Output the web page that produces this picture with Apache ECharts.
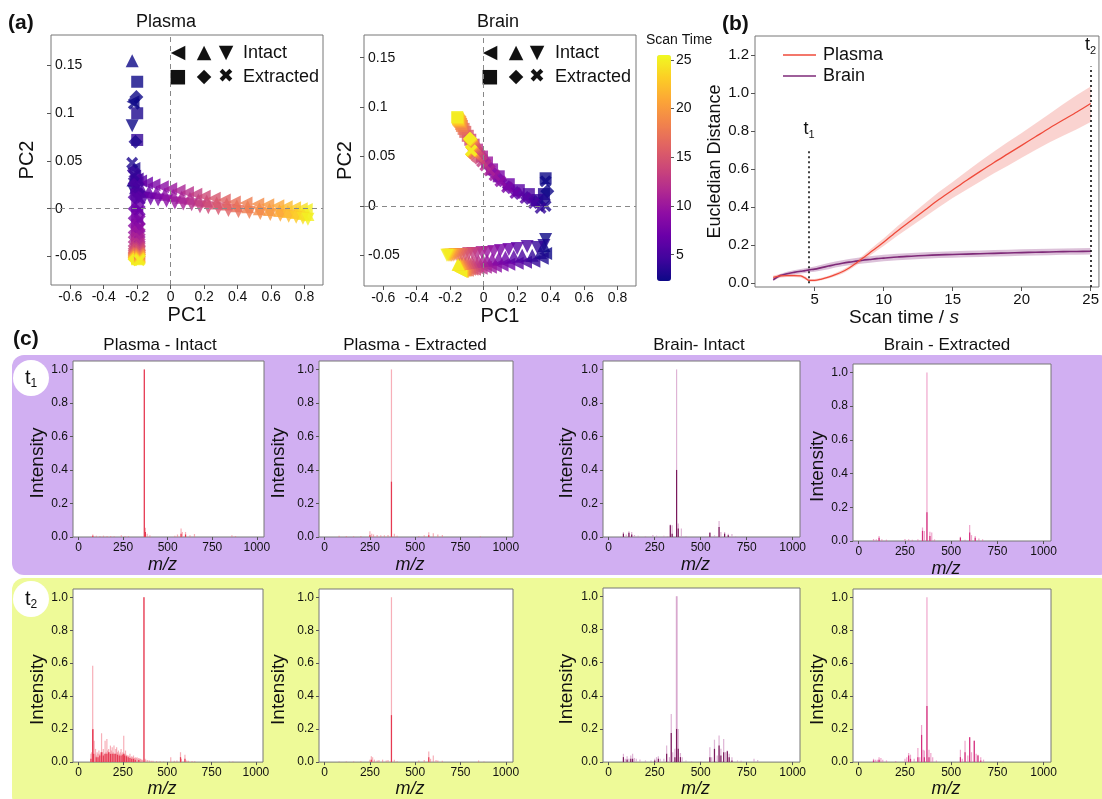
<!DOCTYPE html>
<html>
<head>
<meta charset="utf-8">
<script src="https://cdn.jsdelivr.net/npm/echarts@6/dist/echarts.min.js"></script>
<style>
html, body { margin: 0; padding: 0; background: #fff; }
#chart { width: 1102px; height: 799px; }
</style>
</head>
<body>
<div id="chart"></div>
<script>
// ---------------- (a) PCA score trajectories ----------------
// Scan time (s) of each consecutive point in every trajectory
const scanTimes = [2, 3, 4, 5, 6, 7, 8, 9, 10, 11, 12, 13, 14, 15, 16, 17, 18, 19, 20, 21, 22, 23, 24, 25];

// Plasma: [PC1, PC2] per scan time
const plasmaIntactLeft = [[-0.225,0.112],[-0.22,0.042],[-0.215,0.034],[-0.2,0.031],[-0.18,0.029],[-0.145,0.027],[-0.1,0.025],[-0.05,0.023],[0.0,0.021],[0.05,0.019],[0.1,0.017],[0.15,0.015],[0.2,0.013],[0.26,0.011],[0.32,0.009],[0.38,0.007],[0.45,0.006],[0.52,0.005],[0.58,0.004],[0.64,0.003],[0.69,0.002],[0.74,0.001],[0.78,0.0],[0.81,-0.001]];
const plasmaIntactUp = [[-0.23,0.155],[-0.225,0.03],[-0.21,0.022],[-0.195,0.02],[-0.17,0.019],[-0.13,0.018],[-0.085,0.017],[-0.035,0.015],[0.015,0.014],[0.065,0.012],[0.115,0.011],[0.165,0.009],[0.215,0.008],[0.275,0.006],[0.335,0.005],[0.395,0.003],[0.46,0.002],[0.53,0.0],[0.59,-0.001],[0.65,-0.002],[0.7,-0.003],[0.75,-0.004],[0.79,-0.005],[0.82,-0.006]];
const plasmaIntactDown = [[-0.23,0.087],[-0.22,0.018],[-0.205,0.014],[-0.19,0.012],[-0.16,0.011],[-0.12,0.01],[-0.075,0.009],[-0.025,0.008],[0.025,0.006],[0.075,0.005],[0.125,0.004],[0.175,0.002],[0.225,0.001],[0.285,0.0],[0.345,-0.002],[0.405,-0.003],[0.47,-0.004],[0.535,-0.005],[0.595,-0.006],[0.655,-0.007],[0.705,-0.008],[0.75,-0.009],[0.79,-0.01],[0.82,-0.011]];
const plasmaExtractedSquare = [[-0.2,0.133],[-0.2,0.1],[-0.2,0.072],[-0.205,0.03],[-0.205,0.015],[-0.2,0.003],[-0.2,-0.008],[-0.2,-0.017],[-0.2,-0.023],[-0.2,-0.029],[-0.2,-0.034],[-0.2,-0.038],[-0.2,-0.041],[-0.2,-0.043],[-0.2,-0.045],[-0.2,-0.046],[-0.2,-0.047],[-0.2,-0.048],[-0.2,-0.049],[-0.2,-0.05],[-0.2,-0.051],[-0.2,-0.052],[-0.2,-0.052],[-0.2,-0.053]];
const plasmaExtractedDiamond = [[-0.205,0.117],[-0.21,0.07],[-0.22,0.04],[-0.215,0.026],[-0.215,0.012],[-0.215,0.0],[-0.215,-0.01],[-0.215,-0.018],[-0.215,-0.025],[-0.215,-0.03],[-0.215,-0.035],[-0.215,-0.039],[-0.215,-0.042],[-0.215,-0.044],[-0.215,-0.046],[-0.215,-0.047],[-0.215,-0.048],[-0.215,-0.049],[-0.215,-0.05],[-0.215,-0.051],[-0.215,-0.051],[-0.215,-0.052],[-0.215,-0.053],[-0.215,-0.053]];
const plasmaExtractedCross = [[-0.22,0.11],[-0.23,0.048],[-0.22,0.035],[-0.19,0.022],[-0.185,0.01],[-0.185,-0.002],[-0.185,-0.012],[-0.185,-0.02],[-0.185,-0.026],[-0.185,-0.031],[-0.185,-0.036],[-0.185,-0.04],[-0.185,-0.042],[-0.185,-0.044],[-0.185,-0.046],[-0.185,-0.047],[-0.185,-0.048],[-0.185,-0.049],[-0.185,-0.05],[-0.185,-0.051],[-0.185,-0.052],[-0.185,-0.052],[-0.185,-0.053],[-0.185,-0.054]];

// Brain: [PC1, PC2] per scan time
const brainIntactLeft = [[0.37,-0.048],[0.35,-0.053],[0.3,-0.056],[0.25,-0.057],[0.2,-0.058],[0.15,-0.059],[0.11,-0.06],[0.07,-0.061],[0.04,-0.062],[0.01,-0.062],[-0.015,-0.063],[-0.035,-0.063],[-0.055,-0.064],[-0.07,-0.064],[-0.085,-0.064],[-0.097,-0.065],[-0.107,-0.065],[-0.115,-0.065],[-0.121,-0.065],[-0.126,-0.066],[-0.13,-0.066],[-0.133,-0.066],[-0.136,-0.066],[-0.138,-0.066]];
const brainIntactUp = [[0.36,-0.04],[0.34,-0.047],[0.29,-0.05],[0.23,-0.05],[0.18,-0.051],[0.13,-0.052],[0.09,-0.053],[0.05,-0.054],[0.02,-0.055],[-0.005,-0.055],[-0.03,-0.056],[-0.05,-0.056],[-0.07,-0.057],[-0.085,-0.057],[-0.1,-0.057],[-0.11,-0.058],[-0.12,-0.058],[-0.128,-0.058],[-0.135,-0.058],[-0.14,-0.058],[-0.145,-0.059],[-0.148,-0.059],[-0.151,-0.059],[-0.153,-0.059]];
const brainIntactDown = [[0.37,-0.034],[0.36,-0.04],[0.32,-0.042],[0.26,-0.041],[0.2,-0.043],[0.15,-0.044],[0.1,-0.045],[0.06,-0.046],[0.02,-0.047],[-0.01,-0.047],[-0.04,-0.048],[-0.065,-0.048],[-0.09,-0.048],[-0.11,-0.049],[-0.13,-0.049],[-0.145,-0.049],[-0.16,-0.049],[-0.172,-0.049],[-0.183,-0.05],[-0.193,-0.05],[-0.2,-0.05],[-0.207,-0.05],[-0.213,-0.05],[-0.22,-0.05]];
const brainExtractedSquare = [[0.37,0.028],[0.36,0.012],[0.32,0.006],[0.27,0.012],[0.21,0.016],[0.15,0.022],[0.09,0.03],[0.05,0.037],[0.02,0.044],[-0.01,0.05],[-0.04,0.057],[-0.06,0.062],[-0.08,0.067],[-0.095,0.071],[-0.11,0.075],[-0.12,0.078],[-0.13,0.081],[-0.135,0.083],[-0.14,0.085],[-0.145,0.086],[-0.15,0.087],[-0.153,0.088],[-0.156,0.089],[-0.158,0.09]];
const brainExtractedDiamond = [[0.38,0.015],[0.36,0.006],[0.31,0.004],[0.26,0.008],[0.2,0.013],[0.15,0.019],[0.1,0.026],[0.06,0.033],[0.03,0.04],[0.005,0.046],[-0.015,0.051],[-0.03,0.055],[-0.045,0.058],[-0.055,0.061],[-0.062,0.063],[-0.067,0.064],[-0.071,0.065],[-0.074,0.066],[-0.076,0.066],[-0.078,0.067],[-0.079,0.067],[-0.08,0.067],[-0.081,0.068],[-0.082,0.068]];
const brainExtractedCross = [[0.37,0.025],[0.37,0.0],[0.34,-0.002],[0.3,0.003],[0.25,0.008],[0.19,0.013],[0.14,0.019],[0.1,0.025],[0.065,0.031],[0.035,0.036],[0.01,0.041],[-0.01,0.045],[-0.025,0.048],[-0.04,0.05],[-0.05,0.052],[-0.057,0.053],[-0.062,0.054],[-0.066,0.055],[-0.069,0.055],[-0.071,0.055],[-0.073,0.056],[-0.074,0.056],[-0.075,0.056],[-0.076,0.056]];

const pc1Ticks = [-0.6, -0.4, -0.2, 0, 0.2, 0.4, 0.6, 0.8];
const pc2Ticks = [-0.05, 0, 0.05, 0.1, 0.15];
const scanTimeTicks = [5, 10, 15, 20, 25];

// matplotlib "plasma" colour ramp
const plasmaRamp = ['#0d0887', '#41049d', '#6a00a8', '#8f0da4', '#b12a90', '#cc4778', '#e16462', '#f2844b', '#fca636', '#fcce25', '#f0f921'];

// ---------------- (b) Euclidean distance vs scan time ----------------
const distTimes = [2, 2.5, 3, 3.5, 4, 4.3, 4.6, 5, 5.5, 6, 6.5, 7, 7.5, 8, 8.5, 9, 9.5, 10, 11, 12, 13, 14, 15, 16, 17, 18, 19, 20, 21, 22, 23, 24, 25];
const plasmaDistMean = [0.03, 0.038, 0.04, 0.04, 0.038, 0.028, 0.015, 0.015, 0.022, 0.032, 0.045, 0.06, 0.08, 0.105, 0.132, 0.16, 0.188, 0.215, 0.275, 0.33, 0.385, 0.44, 0.49, 0.54, 0.588, 0.635, 0.68, 0.725, 0.77, 0.815, 0.858, 0.9, 0.945];
const plasmaDistLow = [0.02, 0.028, 0.032, 0.032, 0.03, 0.02, 0.008, 0.008, 0.015, 0.025, 0.037, 0.05, 0.07, 0.093, 0.118, 0.144, 0.17, 0.195, 0.25, 0.3, 0.35, 0.4, 0.448, 0.492, 0.535, 0.578, 0.618, 0.66, 0.7, 0.74, 0.775, 0.81, 0.848];
const plasmaDistHigh = [0.04, 0.048, 0.048, 0.048, 0.046, 0.036, 0.022, 0.022, 0.029, 0.039, 0.053, 0.07, 0.09, 0.117, 0.146, 0.176, 0.206, 0.235, 0.3, 0.36, 0.42, 0.48, 0.532, 0.588, 0.641, 0.692, 0.742, 0.79, 0.84, 0.89, 0.941, 0.99, 1.035];
const brainDistMean = [0.018, 0.04, 0.05, 0.057, 0.063, 0.066, 0.07, 0.074, 0.082, 0.09, 0.098, 0.105, 0.111, 0.116, 0.121, 0.125, 0.129, 0.132, 0.138, 0.142, 0.146, 0.149, 0.151, 0.153, 0.155, 0.157, 0.159, 0.161, 0.163, 0.164, 0.166, 0.167, 0.168];
const brainDistLow = [0.012, 0.032, 0.04, 0.046, 0.051, 0.054, 0.057, 0.06, 0.067, 0.074, 0.082, 0.089, 0.095, 0.1, 0.104, 0.108, 0.112, 0.115, 0.121, 0.125, 0.129, 0.132, 0.134, 0.136, 0.138, 0.14, 0.142, 0.144, 0.146, 0.147, 0.149, 0.15, 0.151];
const brainDistHigh = [0.024, 0.048, 0.06, 0.068, 0.075, 0.078, 0.083, 0.088, 0.097, 0.106, 0.114, 0.121, 0.127, 0.132, 0.138, 0.142, 0.146, 0.149, 0.155, 0.159, 0.163, 0.166, 0.168, 0.17, 0.172, 0.174, 0.176, 0.178, 0.18, 0.181, 0.183, 0.184, 0.185];
const distTicksX = [5, 10, 15, 20, 25];
const distTicksY = [0, 0.2, 0.4, 0.6, 0.8, 1.0, 1.2];
// marker times t1 and t2: [time, top of dotted line]
const markT1 = [4.6, 0.7];
const markT2 = [25, 1.14];

// ---------------- (c) mass spectra: [m/z, relative intensity] ----------------
const mzTicks = [0, 250, 500, 750, 1000];
const intensityTicks = [0, 0.2, 0.4, 0.6, 0.8, 1.0];
const columnTitles = ['Plasma - Intact', 'Plasma - Extracted', 'Brain- Intact', 'Brain - Extracted'];

const specPlasmaIntactT1 = [[80,0.015],[100,0.008],[120,0.006],[140,0.008],[160,0.006],[180,0.006],[200,0.005],[240,0.01],[260,0.006],[280,0.005],[369,1.0],[375,0.055],[385,0.02],[400,0.01],[540,0.008],[555,0.015],[575,0.05],[582,0.03],[600,0.03],[625,0.01],[650,0.018],[860,0.01],[880,0.006]];
const specPlasmaIntactT1Core = [[80,0.008],[369,1.0],[375,0.03],[575,0.02],[600,0.015]];
const specPlasmaExtractedT1 = [[80,0.008],[120,0.006],[160,0.005],[200,0.006],[250,0.035],[260,0.02],[270,0.015],[290,0.012],[310,0.01],[330,0.01],[350,0.012],[369,1.0],[385,0.02],[400,0.008],[520,0.006],[550,0.01],[575,0.028],[600,0.022],[625,0.015],[650,0.012],[860,0.005]];
const specPlasmaExtractedT1Core = [[250,0.01],[369,0.33],[575,0.01]];
const specBrainIntactT1 = [[80,0.03],[95,0.015],[110,0.035],[125,0.03],[140,0.012],[160,0.008],[200,0.006],[240,0.012],[260,0.008],[300,0.008],[320,0.006],[335,0.075],[345,0.07],[369,1.0],[378,0.08],[395,0.05],[420,0.006],[550,0.028],[575,0.01],[600,0.095],[610,0.03],[630,0.03],[650,0.02],[670,0.018],[690,0.005]];
const specBrainIntactT1Core = [[80,0.02],[110,0.025],[125,0.015],[335,0.07],[345,0.02],[369,0.4],[378,0.05],[550,0.025],[600,0.06],[630,0.02],[650,0.01]];
const specBrainExtractedT1 = [[80,0.012],[95,0.01],[110,0.03],[125,0.01],[150,0.008],[250,0.012],[270,0.01],[290,0.008],[320,0.01],[345,0.08],[355,0.06],[369,1.0],[385,0.055],[395,0.05],[410,0.01],[550,0.025],[575,0.008],[600,0.095],[610,0.035],[630,0.03],[650,0.015],[670,0.01]];
const specBrainExtractedT1Core = [[110,0.02],[345,0.06],[369,0.17],[385,0.03],[550,0.02],[600,0.05],[630,0.02]];

const specPlasmaIntactT2 = [[70,0.05],[75,0.06],[80,0.585],[84,0.2],[88,0.13],[92,0.05],[96,0.08],[100,0.04],[105,0.06],[110,0.05],[115,0.07],[120,0.05],[125,0.06],[130,0.175],[135,0.06],[140,0.08],[145,0.05],[150,0.13],[155,0.06],[160,0.14],[165,0.07],[170,0.08],[175,0.06],[180,0.1],[185,0.07],[190,0.09],[195,0.06],[200,0.1],[205,0.05],[210,0.08],[215,0.09],[220,0.06],[225,0.07],[230,0.05],[235,0.06],[240,0.08],[245,0.05],[250,0.06],[255,0.16],[260,0.05],[265,0.07],[270,0.045],[275,0.04],[280,0.04],[285,0.035],[290,0.05],[295,0.03],[300,0.035],[305,0.03],[310,0.04],[315,0.025],[320,0.03],[325,0.025],[330,0.03],[335,0.02],[340,0.025],[345,0.02],[350,0.02],[355,0.015],[360,0.015],[369,1.0],[375,0.02],[380,0.015],[390,0.012],[400,0.01],[410,0.008],[420,0.008],[440,0.006],[460,0.005],[480,0.004],[520,0.03],[540,0.008],[555,0.01],[575,0.06],[580,0.02],[600,0.045],[610,0.01],[620,0.008],[640,0.006],[655,0.005],[850,0.004],[870,0.003]];
const specPlasmaIntactT2Core = [[70,0.02],[80,0.2],[84,0.05],[100,0.03],[110,0.03],[120,0.04],[130,0.06],[140,0.04],[150,0.05],[160,0.05],[170,0.06],[180,0.05],[190,0.05],[200,0.05],[210,0.05],[220,0.045],[230,0.04],[240,0.04],[250,0.045],[255,0.05],[260,0.04],[270,0.035],[280,0.03],[290,0.025],[300,0.02],[310,0.02],[320,0.015],[340,0.012],[369,1.0],[575,0.03],[600,0.02]];
const specPlasmaExtractedT2 = [[80,0.004],[120,0.004],[160,0.004],[200,0.005],[250,0.015],[258,0.035],[265,0.03],[275,0.015],[290,0.01],[300,0.012],[320,0.015],[340,0.01],[350,0.012],[369,1.0],[385,0.015],[400,0.005],[520,0.01],[550,0.012],[575,0.065],[585,0.02],[600,0.04],[615,0.012],[625,0.01],[650,0.008],[850,0.01],[880,0.004]];
const specPlasmaExtractedT2Core = [[258,0.015],[369,0.285],[575,0.03]];
const specBrainIntactT2 = [[80,0.05],[90,0.02],[100,0.035],[110,0.02],[120,0.04],[130,0.05],[140,0.025],[150,0.02],[170,0.015],[200,0.01],[230,0.01],[250,0.02],[260,0.03],[270,0.035],[280,0.02],[300,0.02],[315,0.1],[330,0.03],[340,0.29],[348,0.06],[360,0.08],[368,1.0],[372,1.0],[378,0.2],[390,0.055],[400,0.03],[420,0.01],[450,0.005],[500,0.006],[550,0.09],[560,0.03],[575,0.135],[590,0.04],[600,0.16],[610,0.08],[625,0.14],[635,0.06],[645,0.07],[655,0.05],[670,0.03],[700,0.01],[720,0.008],[790,0.02],[810,0.012]];
const specBrainIntactT2Core = [[80,0.03],[100,0.015],[120,0.02],[130,0.02],[250,0.01],[270,0.02],[315,0.05],[340,0.175],[360,0.03],[369,0.2],[378,0.08],[390,0.03],[550,0.03],[575,0.08],[600,0.1],[610,0.04],[625,0.06],[645,0.065],[655,0.03],[670,0.01]];
const specBrainExtractedT2 = [[80,0.02],[90,0.015],[100,0.015],[110,0.03],[120,0.025],[130,0.015],[150,0.01],[200,0.006],[250,0.02],[260,0.03],[270,0.055],[280,0.045],[300,0.02],[320,0.085],[330,0.03],[340,0.225],[348,0.075],[355,0.07],[369,1.0],[380,0.075],[390,0.055],[400,0.03],[420,0.01],[550,0.075],[560,0.02],[575,0.13],[590,0.04],[600,0.15],[610,0.06],[625,0.13],[635,0.05],[645,0.045],[660,0.03],[675,0.015],[780,0.004]];
const specBrainExtractedT2Core = [[80,0.01],[110,0.015],[270,0.04],[280,0.02],[320,0.03],[340,0.165],[355,0.03],[369,0.34],[380,0.03],[550,0.03],[575,0.06],[600,0.15],[625,0.13],[645,0.04],[660,0.01]];

// ---------------- layout and styling ----------------
const FONT = '"Liberation Sans", Arial, Helvetica, sans-serif';
const INK = '#111';
const FRAME = '#777';

const grids = [
  { left: 51,  top: 35,  width: 272, height: 250 },   // 0 PCA plasma
  { left: 364, top: 35,  width: 272, height: 251 },   // 1 PCA brain
  { left: 657, top: 55,  width: 14,  height: 226 },   // 2 colour bar axis
  { left: 755, top: 36,  width: 346, height: 251 },   // 3 distance
  { left: 73,  top: 361, width: 191, height: 176 },   // 4 t1 plasma intact
  { left: 319, top: 361, width: 194, height: 176 },   // 5 t1 plasma extracted
  { left: 603, top: 361, width: 197, height: 176 },   // 6 t1 brain intact
  { left: 853, top: 364, width: 198, height: 177 },   // 7 t1 brain extracted
  { left: 73,  top: 589, width: 190, height: 176 },   // 8 t2 plasma intact
  { left: 319, top: 589, width: 194, height: 176 },   // 9 t2 plasma extracted
  { left: 603, top: 588, width: 197, height: 176 },   // 10 t2 brain intact
  { left: 853, top: 589, width: 198, height: 176 }    // 11 t2 brain extracted
].map((g, i) => Object.assign({
  show: i !== 2, borderColor: FRAME, borderWidth: 1, backgroundColor: '#fff', containLabel: false
}, g));

const xAxes = [];
const yAxes = [];

function nameStyle(size, extra) {
  return Object.assign({ fontSize: size, fontFamily: FONT, color: INK, verticalAlign: 'middle' }, extra || {});
}
const plain = v => (v === 0 ? '0' : String(v));

// PCA axes
[[-0.08, 0.182, 24], [-0.081, 0.173, 19]].forEach((r, i) => {
  xAxes.push({
    gridIndex: i, type: 'value', min: -0.715, max: 0.91,
    axisLine: { show: false, onZero: false },
    axisTick: { show: true, customValues: pc1Ticks, length: 4, lineStyle: { color: '#555' } },
    axisLabel: { customValues: pc1Ticks, fontSize: 14, fontFamily: FONT, color: INK, margin: 5, formatter: plain },
    splitLine: { show: false },
    name: 'PC1', nameLocation: 'middle', nameGap: 30, nameTextStyle: nameStyle(20)
  });
  yAxes.push({
    gridIndex: i, type: 'value', min: r[0], max: r[1],
    axisLine: { show: false, onZero: false },
    axisTick: { show: true, customValues: pc2Ticks, length: 4, lineStyle: { color: '#555' } },
    axisLabel: { customValues: pc2Ticks, inside: true, fontSize: 14, fontFamily: FONT, color: INK, margin: 4, formatter: plain },
    splitLine: { show: false },
    name: 'PC2', nameLocation: 'middle', nameGap: r[2], nameTextStyle: nameStyle(20)
  });
});

// colour bar axis
xAxes.push({ gridIndex: 2, type: 'value', min: 0, max: 1, show: false });
yAxes.push({
  gridIndex: 2, type: 'value', min: 2.3, max: 25.5, position: 'right',
  axisLine: { show: false, onZero: false },
  axisTick: { show: true, customValues: scanTimeTicks, length: 3, lineStyle: { color: '#555' } },
  axisLabel: { customValues: scanTimeTicks, fontSize: 14, fontFamily: FONT, color: INK, margin: 5, formatter: plain },
  splitLine: { show: false }
});

// distance axes
xAxes.push({
  gridIndex: 3, type: 'value', min: 0.68, max: 25.6,
  axisLine: { show: false, onZero: false },
  axisTick: { show: true, customValues: distTicksX, length: 4, lineStyle: { color: '#555' } },
  axisLabel: { customValues: distTicksX, fontSize: 15, fontFamily: FONT, color: INK, margin: 5, formatter: plain },
  splitLine: { show: false },
  name: '{n|Scan time / }{i|s}', nameLocation: 'middle', nameGap: 31,
  nameTextStyle: nameStyle(19, { padding: [0, 46, 0, 0], rich: {
    n: { fontSize: 19, fontFamily: FONT, color: INK },
    i: { fontSize: 19, fontFamily: FONT, color: INK, fontStyle: 'italic' } } })
});
yAxes.push({
  gridIndex: 3, type: 'value', min: -0.02, max: 1.30,
  axisLine: { show: false, onZero: false },
  axisTick: { show: true, customValues: distTicksY, length: 4, lineStyle: { color: '#555' } },
  axisLabel: { customValues: distTicksY, fontSize: 15, fontFamily: FONT, color: INK, margin: 6,
    formatter: v => v.toFixed(1) },
  splitLine: { show: false },
  name: 'Eucledian Distance', nameLocation: 'middle', nameGap: 35, nameTextStyle: nameStyle(18)
});

// spectra axes
const intensityGaps = [35, 40, 36, 35];
for (let k = 0; k < 8; k++) {
  const g = 4 + k;
  xAxes.push({
    gridIndex: g, type: 'value', min: -31, max: 1040,
    axisLine: { show: false, onZero: false },
    axisTick: { show: true, customValues: mzTicks, length: 3, lineStyle: { color: '#555' } },
    axisLabel: { customValues: mzTicks, fontSize: 12, fontFamily: FONT, color: INK, margin: 5, formatter: plain },
    splitLine: { show: false },
    name: 'm/z', nameLocation: 'middle', nameGap: k < 4 ? 28 : 26,
    nameTextStyle: nameStyle(18, { fontStyle: 'italic', padding: [0, 12, 0, 0] })
  });
  yAxes.push({
    gridIndex: g, type: 'value', min: 0, max: 1.05,
    axisLine: { show: false, onZero: false },
    axisTick: { show: true, customValues: intensityTicks, length: 3, lineStyle: { color: '#555' } },
    axisLabel: { customValues: intensityTicks, fontSize: 12, fontFamily: FONT, color: INK, margin: 5,
      formatter: v => v.toFixed(1) },
    splitLine: { show: false },
    name: 'Intensity', nameLocation: 'middle', nameGap: intensityGaps[k % 4],
    nameTextStyle: nameStyle(19, { padding: [0, 28, 0, 0] })
  });
}

// ---------------- series ----------------
const crossPath = 'path://M0,2L2,0L5,3L8,0L10,2L7,5L10,8L8,10L5,7L2,10L0,8L3,5Z';
const markerKinds = [
  { symbol: 'triangle', rotate: 90, size: 13 },
  { symbol: 'triangle', rotate: 0, size: 13 },
  { symbol: 'triangle', rotate: 180, size: 13 },
  { symbol: 'rect', rotate: 0, size: 12 },
  { symbol: 'diamond', rotate: 0, size: 14 },
  { symbol: crossPath, rotate: 0, size: 12 }
];
const plasmaGroups = [plasmaIntactLeft, plasmaIntactUp, plasmaIntactDown, plasmaExtractedSquare, plasmaExtractedDiamond, plasmaExtractedCross];
const brainGroups = [brainIntactLeft, brainIntactUp, brainIntactDown, brainExtractedSquare, brainExtractedDiamond, brainExtractedCross];

const zeroLines = {
  silent: true, symbol: ['none', 'none'], label: { show: false },
  lineStyle: { type: [5, 4], color: '#888', width: 1 },
  data: [{ xAxis: 0 }, { yAxis: 0 }]
};

const series = [];
[plasmaGroups, brainGroups].forEach((groups, gi) => {
  groups.forEach((pts, k) => {
    const s = {
      type: 'scatter', name: (gi ? 'brain-' : 'plasma-') + k,
      xAxisIndex: gi, yAxisIndex: gi,
      symbol: markerKinds[k].symbol, symbolRotate: markerKinds[k].rotate, symbolSize: markerKinds[k].size,
      data: pts.map((p, i) => [p[0], p[1], scanTimes[i]]),
      silent: true
    };
    if (k === 0) s.markLine = zeroLines;
    series.push(s);
  });
});

function band(name, xs, lo, hi, color) {
  return {
    type: 'custom', name: name, xAxisIndex: 3, yAxisIndex: 3, silent: true,
    data: xs.map((x, i) => [x, lo[i], hi[i]]),
    renderItem: function (params, api) {
      if (params.dataIndex !== 0) return null;
      const upper = xs.map((x, i) => api.coord([x, hi[i]]));
      const lower = xs.map((x, i) => api.coord([x, lo[i]])).reverse();
      return { type: 'polygon', shape: { points: upper.concat(lower) }, style: { fill: color } };
    }
  };
}
series.push(band('Brain band', distTimes, brainDistLow, brainDistHigh, 'rgba(140,50,130,0.30)'));
series.push(band('Plasma band', distTimes, plasmaDistLow, plasmaDistHigh, 'rgba(240,110,100,0.30)'));
series.push({
  type: 'line', name: 'Brain', xAxisIndex: 3, yAxisIndex: 3, symbol: 'none', smooth: 0.3,
  data: distTimes.map((t, i) => [t, brainDistMean[i]]),
  lineStyle: { color: '#7e2a78', width: 1.6 }, itemStyle: { color: '#7e2a78' }, silent: true
});
series.push({
  type: 'line', name: 'Plasma', xAxisIndex: 3, yAxisIndex: 3, symbol: 'none', smooth: 0.3,
  data: distTimes.map((t, i) => [t, plasmaDistMean[i]]),
  lineStyle: { color: '#ef4a3a', width: 1.3 }, itemStyle: { color: '#ef4a3a' }, silent: true,
  markLine: {
    silent: true, symbol: ['none', 'none'],
    lineStyle: { type: [2, 3], color: '#000', width: 1.5 },
    label: {
      show: true, position: 'end', distance: 10,
      formatter: p => '{t|t}{s|' + p.name + '}',
      rich: {
        t: { fontSize: 18, fontFamily: FONT, color: INK },
        s: { fontSize: 11, fontFamily: FONT, color: INK, padding: [12, 0, 0, 0] }
      }
    },
    data: [
      [{ name: '1', coord: [markT1[0], 0] }, { coord: [markT1[0], markT1[1]] }],
      [{ name: '2', coord: [markT2[0], -0.02] }, { coord: [markT2[0], markT2[1]] }]
    ]
  }
});

const plasmaLight = 'rgba(240,110,125,0.55)', plasmaDark = '#e63a52';
const brainILight = 'rgba(205,140,190,0.65)', brainIDark = '#7a1a5c';
const brainELight = 'rgba(228,105,170,0.6)', brainEDark = '#d4307e';
const spectra = [
  [specPlasmaIntactT1, specPlasmaIntactT1Core, plasmaLight, plasmaDark],
  [specPlasmaExtractedT1, specPlasmaExtractedT1Core, plasmaLight, plasmaDark],
  [specBrainIntactT1, specBrainIntactT1Core, brainILight, brainIDark],
  [specBrainExtractedT1, specBrainExtractedT1Core, brainELight, brainEDark],
  [specPlasmaIntactT2, specPlasmaIntactT2Core, plasmaLight, plasmaDark],
  [specPlasmaExtractedT2, specPlasmaExtractedT2Core, plasmaLight, plasmaDark],
  [specBrainIntactT2, specBrainIntactT2Core, brainILight, brainIDark],
  [specBrainExtractedT2, specBrainExtractedT2Core, brainELight, brainEDark]
];
spectra.forEach((sp, k) => {
  [[sp[0], sp[2]], [sp[1], sp[3]]].forEach(layer => {
    series.push({
      type: 'bar', xAxisIndex: 4 + k, yAxisIndex: 4 + k, barWidth: 1.2, barGap: '-100%',
      data: layer[0], itemStyle: { color: layer[1] }, silent: true
    });
  });
});

// ---------------- text, panels and keys ----------------
function txt(x, y, s, opt) {
  return {
    type: 'text', x: x, y: y, silent: true,
    style: Object.assign({ text: s, fontSize: 17, fontFamily: FONT, fill: INK, align: 'center', verticalAlign: 'middle' }, opt || {})
  };
}
const glyphFont = '"DejaVu Sans", sans-serif';
function keyRows(x0, glyphXs) {
  const rows = [['\u25C0', '\u25B2', '\u25BC', 'Intact', 53], ['\u25A0', '\u25C6', '\u2716', 'Extracted', 77]];
  const out = [];
  rows.forEach(r => {
    for (let i = 0; i < 3; i++) out.push(txt(glyphXs[i], r[4], r[i], { fontFamily: glyphFont, fontSize: 19 }));
    out.push(txt(x0, r[4], r[3], { align: 'left', fontSize: 18 }));
  });
  return out;
}
const subRich = {
  t: { fontSize: 20, fontFamily: FONT, fill: INK },
  s: { fontSize: 12, fontFamily: FONT, fill: INK, padding: [12, 0, 0, 0] }
};

const graphic = [
  { type: 'rect', z: -10, silent: true, shape: { x: 12, y: 355, width: 1100, height: 220, r: 12 }, style: { fill: '#d1aff2' } },
  { type: 'rect', z: -10, silent: true, shape: { x: 12, y: 578, width: 1100, height: 230, r: 12 }, style: { fill: '#eefa98' } },
  { type: 'circle', z: 5, silent: true, shape: { cx: 31, cy: 378, r: 18 }, style: { fill: '#fff' } },
  { type: 'circle', z: 5, silent: true, shape: { cx: 31, cy: 599, r: 18 }, style: { fill: '#fff' } },
  Object.assign(txt(31, 378, '{t|t}{s|1}', { rich: subRich }), { z: 6 }),
  Object.assign(txt(31, 599, '{t|t}{s|2}', { rich: subRich }), { z: 6 }),
  txt(8, 23, '(a)', { align: 'left', fontSize: 21, fontWeight: 'bold' }),
  txt(722, 24, '(b)', { align: 'left', fontSize: 21, fontWeight: 'bold' }),
  txt(13, 339, '(c)', { align: 'left', fontSize: 21, fontWeight: 'bold' }),
  txt(166, 22, 'Plasma', { fontSize: 18 }),
  txt(498, 22, 'Brain', { fontSize: 18 }),
  txt(646, 40, 'Scan Time', { align: 'left', fontSize: 14 }),
  txt(160, 345, columnTitles[0]),
  txt(415, 345, columnTitles[1]),
  txt(699, 345, columnTitles[2]),
  txt(947, 345, columnTitles[3])
].concat(keyRows(243, [178, 204, 226]), keyRows(555, [490, 516, 537]));

const option = {
  animation: false,
  backgroundColor: '#fff',
  textStyle: { fontFamily: FONT },
  grid: grids,
  xAxis: xAxes,
  yAxis: yAxes,
  visualMap: {
    type: 'continuous', min: 2.3, max: 25.5, dimension: 2,
    seriesIndex: [0, 1, 2, 3, 4, 5, 6, 7, 8, 9, 10, 11],
    inRange: { color: plasmaRamp },
    calculable: false, left: 657, top: 55, itemWidth: 14, itemHeight: 226,
    padding: 0, orient: 'vertical', hoverLink: false
  },
  legend: {
    data: [{ name: 'Plasma', icon: 'rect' }, { name: 'Brain', icon: 'rect' }],
    left: 778, top: 41, orient: 'vertical',
    itemWidth: 33, itemHeight: 1.5, itemGap: 3,
    textStyle: { fontSize: 18, fontFamily: FONT, color: INK, padding: [0, 0, 0, 2] }
  },
  graphic: graphic,
  series: series
};

const chart = echarts.init(document.getElementById('chart'), null, { renderer: 'canvas' });
chart.setOption(option);
</script>
</body>
</html>
